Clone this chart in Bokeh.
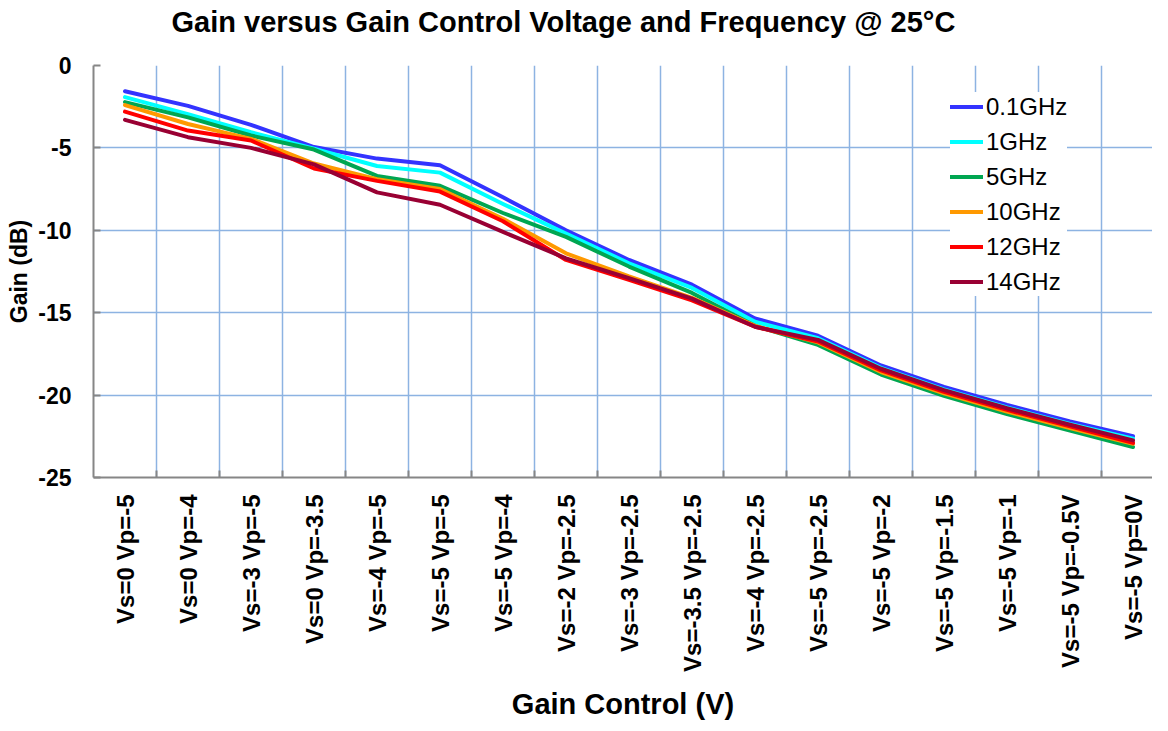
from bokeh.plotting import figure
from bokeh.models import Range1d, FixedTicker, Legend, LegendItem, LinearAxis
from bokeh.embed import file_html
from bokeh.resources import INLINE

categories = ["Vs=0 Vp=-5", "Vs=0 Vp=-4", "Vs=-3 Vp=-5", "Vs=0 Vp=-3.5",
              "Vs=-4 Vp=-5", "Vs=-5 Vp=-5", "Vs=-5 Vp=-4", "Vs=-2 Vp=-2.5",
              "Vs=-3 Vp=-2.5", "Vs=-3.5 Vp=-2.5", "Vs=-4 Vp=-2.5", "Vs=-5 Vp=-2.5",
              "Vs=-5 Vp=-2", "Vs=-5 Vp=-1.5", "Vs=-5 Vp=-1", "Vs=-5 Vp=-0.5V",
              "Vs=-5 Vp=0V"]

series_names = ["0.1GHz", "1GHz", "5GHz", "10GHz", "12GHz", "14GHz"]
gain_0p1 = [-1.56, -2.45, -3.6, -4.95, -5.65, -6.05, -8.0, -10.0, -11.8, -13.3,
            -15.35, -16.4, -18.2, -19.5, -20.6, -21.6, -22.5]
gain_1 = [-1.92, -2.95, -4.05, -5.05, -6.1, -6.5, -8.4, -10.2, -12.0, -13.5,
          -15.55, -16.55, -18.35, -19.65, -20.75, -21.75, -22.65]
gain_5 = [-2.22, -3.15, -4.25, -5.1, -6.7, -7.3, -8.95, -10.4, -12.2, -13.8,
          -15.8, -16.95, -18.75, -20.05, -21.15, -22.15, -23.15]
gain_10 = [-2.4, -3.55, -4.45, -5.95, -6.9, -7.5, -9.3, -11.4, -12.8, -14.1,
           -15.8, -16.8, -18.6, -19.9, -21.0, -22.0, -22.95]
gain_12 = [-2.8, -3.95, -4.55, -6.25, -7.0, -7.65, -9.45, -11.8, -13.0, -14.25,
           -15.85, -16.75, -18.5, -19.8, -20.9, -21.9, -22.9]
gain_14 = [-3.3, -4.35, -5.0, -6.0, -7.7, -8.45, -10.1, -11.7, -12.9, -14.15,
           -15.85, -16.65, -18.4, -19.7, -20.8, -21.8, -22.75]
series_values = [gain_0p1, gain_1, gain_5, gain_10, gain_12, gain_14]
colors = ["#3333FF", "#00FFFF", "#00A651", "#FF9900", "#FF0000", "#990033"]
y_ticks = [-25, -20, -15, -10, -5, 0]
y_tick_labels = ["-25", "-20", "-15", "-10", "-5", "0"]
title_text = "Gain versus Gain Control Voltage and Frequency @ 25°C"
x_title = "Gain Control (V)"
y_title = "Gain (dB)"

FONT = "Liberation Sans"
W, H = 1152, 722
LEFT, TOP = 93, 65
FRAME_H = 412
BOTTOM = H - TOP - FRAME_H
n = len(categories)
cat_w = 63.0
x_end = (W - LEFT) / cat_w

p = figure(width=W, height=H, output_backend="svg", toolbar_location=None,
           x_range=Range1d(0, x_end), y_range=Range1d(-25, 0),
           min_border_left=LEFT, min_border_right=0, min_border_top=TOP,
           min_border_bottom=BOTTOM)
p.outline_line_color = None
p.background_fill_color = "white"
p.border_fill_color = "white"

centers = [i + 0.5 for i in range(n)]
bounds = [float(i) for i in range(1, n)]

# grids
p.xgrid.ticker = FixedTicker(ticks=bounds)
p.ygrid.ticker = FixedTicker(ticks=y_ticks)
for g in (p.xgrid, p.ygrid):
    g.grid_line_color = "#8DB3E2"
    g.grid_line_width = 1.5

# x axis
xa = p.xaxis[0]
xa.ticker = FixedTicker(ticks=centers, minor_ticks=bounds)
xa.major_label_overrides = {c: lab for c, lab in zip(centers, categories)}
xa.major_label_orientation = 3.14159265 / 2
xa.major_label_text_font = FONT
xa.major_label_text_font_style = "bold"
xa.major_label_text_font_size = "24px"
xa.major_label_text_color = "black"
xa.major_label_standoff = 17
xa.major_tick_line_color = None
xa.major_tick_in = 0
xa.major_tick_out = 0
xa.minor_tick_line_color = "#868686"
xa.minor_tick_line_width = 2
xa.minor_tick_in = 7
xa.minor_tick_out = 0
xa.axis_line_color = "#868686"
xa.axis_line_width = 2
xa.axis_label = x_title
xa.axis_label_text_font = FONT
xa.axis_label_text_font_style = "bold"
xa.axis_label_text_font_size = "29px"
xa.axis_label_text_color = "black"
xa.axis_label_standoff = 13

# y axis
ya = p.yaxis[0]
ya.ticker = FixedTicker(ticks=y_ticks)
ya.major_label_overrides = {t: s for t, s in zip(y_ticks, y_tick_labels)}
ya.major_label_text_font = FONT
ya.major_label_text_font_style = "bold"
ya.major_label_text_font_size = "23px"
ya.major_label_text_color = "black"
ya.major_label_standoff = 22
ya.major_tick_line_color = "#868686"
ya.major_tick_line_width = 2
ya.major_tick_in = 7
ya.major_tick_out = 0
ya.minor_tick_line_color = None
ya.axis_line_color = "#868686"
ya.axis_line_width = 2
ya.axis_label = y_title
ya.axis_label_text_font = FONT
ya.axis_label_text_font_style = "bold"
ya.axis_label_text_font_size = "23px"
ya.axis_label_text_color = "black"
ya.axis_label_standoff = 3

# invisible spacer axis above the frame, so that the title sits higher
spacer = LinearAxis(ticker=FixedTicker(ticks=[centers[0]]),
                    major_label_overrides={centers[0]: " "},
                    axis_line_color=None,
                    major_tick_line_color=None, minor_tick_line_color=None,
                    major_tick_in=0, major_tick_out=28, minor_tick_in=0,
                    minor_tick_out=0, major_label_text_font_size="1px",
                    major_label_text_color=None, major_label_standoff=0)
p.add_layout(spacer, "above")

# title
p.title.text = title_text
p.title.text_font = FONT
p.title.text_font_style = "bold"
p.title.text_font_size = "29px"
p.title.text_color = "black"
p.title.align = "left"
p.title.offset = 78
p.title.vertical_align = "bottom"
p.title.standoff = 0

items = []
for name, vals, col in zip(series_names, series_values, colors):
    r = p.line(centers, vals, line_color=col, line_width=4, line_join="round",
               line_cap="round")
    items.append(LegendItem(label=name, renderers=[r]))

legend = Legend(items=items, location=(857, 181))
legend.background_fill_color = "white"
legend.background_fill_alpha = 1.0
legend.border_line_color = None
legend.label_text_font = FONT
legend.label_text_font_size = "24px"
legend.label_text_color = "black"
legend.glyph_width = 33
legend.glyph_height = 29
legend.label_height = 29
legend.label_standoff = 3
legend.spacing = 6
legend.padding = 5
legend.margin = 0
p.add_layout(legend, "center")

open("out.html", "w").write(file_html(p, INLINE))
